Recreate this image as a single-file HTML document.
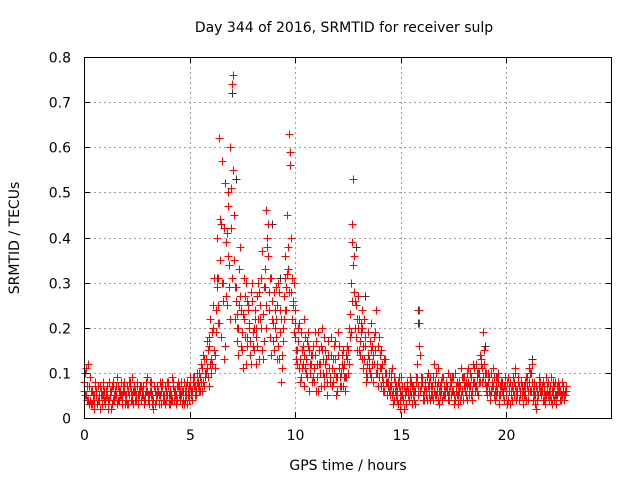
<!DOCTYPE html>
<html><head><meta charset="utf-8"><style>
html,body{margin:0;padding:0;background:#fff}
svg{display:block;font-family:"DejaVu Sans","Liberation Sans",sans-serif}
</style></head><body>
<svg id="chart" width="640" height="480" viewBox="0 0 640 480">
<rect x="0" y="0" width="640" height="480" fill="#fff"/>
<g id="grid"></g>
<g id="black"></g>
<g id="red"></g>
<rect x="84.5" y="57.5" width="527" height="361" fill="none" stroke="#000" stroke-width="1"/>
<g id="ticks"></g>
<text x="344" y="32" font-size="14" text-anchor="middle">Day 344 of 2016, SRMTID for receiver sulp</text>
<text x="348" y="470" font-size="14" text-anchor="middle">GPS time / hours</text>
<text x="0" y="0" font-size="14" text-anchor="middle" transform="translate(19,238) rotate(-90)">SRMTID / TECUs</text>
</svg>
<script>
const xTicks=[0,5,10,15,20];
const yTicks=[0,0.1,0.2,0.3,0.4,0.5,0.6,0.7,0.8];
const stepA=0.09;
const seriesA=[.06,.11,.04,.09,.03,.05,.08,.03,.04,.06,
.05,.03,.07,.04,.06,.08,.04,.05,.07,.06,
.05,.08,.04,.06,.07,.05,.03,.06,.08,.05,
.04,.07,.05,.09,.03,.06,.05,.07,.04,.06,
.05,.08,.04,.06,.07,.03,.05,.08,.06,.04,
.07,.05,.06,.04,.08,.05,.07,.06,.09,.05,
.08,.06,.11,.07,.13,.09,.16,.10,.20,.14,
.40,.62,.18,.30,.52,.25,.47,.60,.74,.35,
.29,.20,.38,.15,.22,.30,.18,.21,.12,.19,
.24,.16,.28,.20,.13,.33,.46,.36,.18,.26,
.15,.22,.30,.19,.11,.27,.36,.45,.63,.28,
.25,.18,.12,.21,.09,.16,.07,.13,.19,.10,
.14,.08,.17,.06,.12,.20,.09,.15,.05,.11,
.18,.08,.13,.06,.16,.10,.07,.12,.09,.15,
.23,.43,.36,.18,.27,.14,.20,.11,.16,.09,
.13,.21,.08,.15,.10,.18,.07,.12,.06,.10,
.08,.05,.11,.04,.07,.03,.06,.09,.04,.05,
.07,.04,.08,.05,.03,.12,.24,.06,.09,.04,
.06,.10,.04,.07,.12,.05,.08,.03,.06,.09,
.05,.07,.04,.08,.06,.10,.05,.03,.07,.06,
.09,.05,.11,.07,.04,.08,.12,.06,.10,.13,
.19,.08,.05,.09,.06,.11,.04,.07,.10,.05,
.08,.04,.06,.09,.03,.07,.05,.10,.06,.04,
.08,.03,.05,.09,.11,.06,.04,.07,.02,.05,
.08,.06,.04,.09,.05,.07,.03,.06,.08,.05,.07,.04,.06,.05];
const seriesB=[.10,.04,.07,.03,.05,.02,.06,.04,.07,.03,
.04,.06,.02,.05,.03,.07,.05,.09,.04,.05,
.06,.03,.07,.05,.04,.09,.06,.04,.05,.07,
.05,.03,.06,.04,.08,.05,.02,.06,.05,.03,
.06,.04,.07,.05,.03,.06,.09,.04,.05,.07,
.04,.06,.03,.07,.05,.04,.06,.08,.05,.10,
.06,.12,.08,.10,.17,.07,.22,.12,.31,.19,
.25,.44,.57,.13,.39,.50,.29,.42,.55,.22,
.17,.33,.24,.11,.27,.16,.25,.14,.30,.20,
.12,.30,.22,.37,.17,.25,.40,.28,.14,.21,
.24,.13,.28,.08,.20,.31,.24,.38,.56,.22,
.30,.13,.20,.08,.15,.22,.11,.17,.06,.14,
.09,.19,.12,.15,.07,.13,.18,.10,.14,.08,
.11,.16,.05,.19,.09,.14,.11,.06,.13,.20,
.30,.53,.26,.22,.15,.19,.24,.13,.08,.19,
.10,.16,.12,.24,.07,.14,.11,.08,.13,.05,
.06,.10,.03,.08,.06,.09,.04,.07,.02,.06,
.05,.09,.03,.06,.08,.05,.16,.07,.04,.08,
.09,.05,.07,.04,.08,.06,.11,.05,.04,.07,
.08,.04,.09,.06,.03,.07,.05,.08,.11,.04,
.06,.10,.07,.05,.12,.06,.09,.05,.14,.08,
.12,.06,.10,.04,.08,.05,.09,.06,.03,.07,
.05,.09,.03,.07,.05,.06,.11,.04,.08,.06,
.05,.07,.09,.04,.06,.12,.08,.03,.06,.09,
.05,.08,.03,.06,.04,.09,.05,.07,.03,.06,.04,.08,.05,.07];
const seriesC=[.08,.05,.12,.04,.06,.03,.05,.07,.02,.05,
.07,.04,.05,.08,.02,.04,.06,.03,.06,.08,
.04,.06,.05,.03,.08,.04,.07,.05,.03,.06,
.07,.05,.04,.06,.05,.08,.04,.03,.07,.05,
.03,.07,.05,.04,.08,.05,.04,.06,.03,.08,
.05,.08,.04,.06,.03,.07,.05,.09,.07,.08,
.07,.09,.06,.13,.10,.15,.12,.19,.15,.24,
.31,.21,.43,.26,.16,.41,.34,.51,.76,.29,
.23,.14,.27,.19,.31,.12,.24,.17,.26,.15,
.20,.27,.13,.31,.23,.29,.38,.24,.31,.17,
.20,.29,.16,.24,.14,.22,.29,.33,.59,.31,
.19,.24,.15,.11,.19,.12,.18,.09,.15,.12,
.16,.11,.06,.19,.10,.15,.07,.13,.17,.09,
.07,.13,.17,.09,.11,.07,.15,.09,.16,.12,
.19,.39,.28,.25,.20,.17,.13,.22,.10,.14,
.17,.09,.14,.19,.12,.09,.15,.06,.10,.08,
.10,.07,.05,.09,.05,.08,.02,.05,.07,.03,
.06,.08,.05,.07,.06,.09,.21,.09,.05,.07,
.04,.07,.09,.05,.06,.10,.04,.07,.09,.05,
.07,.10,.06,.05,.09,.04,.08,.06,.05,.09,
.07,.04,.08,.10,.06,.11,.07,.10,.08,.11,
.15,.10,.07,.06,.10,.07,.06,.09,.05,.08,
.06,.07,.05,.04,.08,.04,.08,.06,.09,.05,
.07,.05,.06,.07,.08,.10,.06,.05,.04,.07,
.06,.04,.07,.05,.08,.05,.06,.04,.05,.08,.06,.05,.07,.06];
const seriesD=[.05,.07,.03,.06,.04,.07,.03,.05,.05,.08,
.06,.05,.04,.06,.07,.05,.07,.04,.05,.03,
.07,.05,.03,.08,.06,.06,.04,.07,.06,.04,
.06,.04,.08,.05,.06,.03,.07,.05,.06,.08,
.07,.05,.03,.08,.05,.04,.07,.05,.07,.05,
.06,.03,.08,.05,.06,.09,.04,.07,.06,.07,
.10,.08,.14,.09,.11,.18,.13,.25,.11,.29,
.21,.35,.30,.42,.27,.36,.22,.31,.45,.26,
.20,.25,.16,.23,.18,.26,.20,.28,.16,.22,
.18,.22,.25,.15,.29,.20,.43,.31,.22,.28,
.18,.25,.13,.22,.17,.24,.32,.28,.40,.26,
.21,.15,.17,.13,.11,.14,.10,.16,.12,.08,
.11,.14,.09,.12,.16,.10,.12,.08,.11,.14,
.13,.10,.09,.14,.07,.12,.09,.14,.10,.18,
.26,.34,.20,.15,.22,.21,.16,.18,.12,.11,
.15,.12,.18,.10,.16,.11,.09,.13,.08,.07,
.07,.09,.06,.06,.04,.07,.05,.04,.06,.08,
.04,.06,.07,.04,.09,.07,.14,.08,.06,.05,
.07,.08,.05,.09,.05,.07,.06,.08,.05,.06,
.06,.05,.07,.09,.05,.06,.07,.04,.09,.07,
.08,.07,.05,.09,.08,.07,.10,.08,.12,.09,
.10,.07,.08,.05,.07,.09,.05,.08,.07,.06,
.07,.05,.08,.06,.06,.09,.07,.05,.07,.08,
.06,.08,.04,.06,.10,.08,.05,.07,.05,.06,
.07,.06,.05,.07,.06,.04,.08,.05,.07,.06,.05,.06,.04,.06];
const blackTimes=[6.3,7.0,7.2,8.9,9.3,12.9,13.3,15.8,15.8,19.0,21.2];
const blackValues=[.31,.72,.53,.43,.31,.38,.27,.24,.21,.16,.13];

const X0=84,X1=612,Y0=418,Y1=57;
const xs=v=>X0+(v/25)*(X1-X0);
const ys=v=>Y0-(v/0.8)*(Y0-Y1);
const NS='http://www.w3.org/2000/svg';
function mk(tag,attrs,parent){const e=document.createElementNS(NS,tag);for(const k in attrs)e.setAttribute(k,attrs[k]);parent.appendChild(e);return e;}
const grid=document.getElementById('grid'),ticks=document.getElementById('ticks');
xTicks.forEach(t=>{
  const x=Math.round(xs(t))+0.5;
  if(t>0){const g=mk('line',{x1:x,x2:x,y1:Y1,y2:Y0,stroke:'#a0a0a0','stroke-dasharray':'2,3'},grid);
  
  }
  const a=mk('path',{d:`M${x},${Y0}v-6M${x},${Y1}v6`,stroke:'#000'},ticks);
  
  
  const l=mk('text',{x:x,y:440,'font-size':14,'text-anchor':'middle'},ticks);l.textContent=t;
  
  
});
yTicks.forEach(t=>{
  const y=Math.round(ys(t))+0.5;
  if(t>0&&t<0.8){const g=mk('line',{x1:X0,x2:X1,y1:y,y2:y,stroke:'#a0a0a0','stroke-dasharray':'2,3'},grid);
  
  }
  const a=mk('path',{d:`M${X0},${y}h6M${X1},${y}h-6`,stroke:'#000'},ticks);
  
  
  const l=mk('text',{x:71,y:y+5,'font-size':14,'text-anchor':'end'},ticks);l.textContent=t===0?'0':t.toFixed(1);
  
  
});
function plus(parent,t,v,color){
  const x=Math.round(xs(t))+0.5,y=Math.round(ys(v))+0.5;
  const p=mk('path',{d:`M${x-4},${y}h8M${x},${y-4}v8`,stroke:color,'stroke-width':1},parent);
  
  
}
const black=document.getElementById('black'),red=document.getElementById('red');
blackTimes.forEach((t,i)=>plus(black,t,blackValues[i],'#333'));
seriesA.forEach((v,i)=>plus(red,i*stepA,v,'#ff0000'));
seriesB.forEach((v,i)=>plus(red,stepA/2+i*stepA,v,'#ff0000'));
seriesC.forEach((v,i)=>plus(red,stepA/4+i*stepA,v,'#ff0000'));
seriesD.forEach((v,i)=>plus(red,3*stepA/4+i*stepA,v,'#ff0000'));
</script>
</body></html>
